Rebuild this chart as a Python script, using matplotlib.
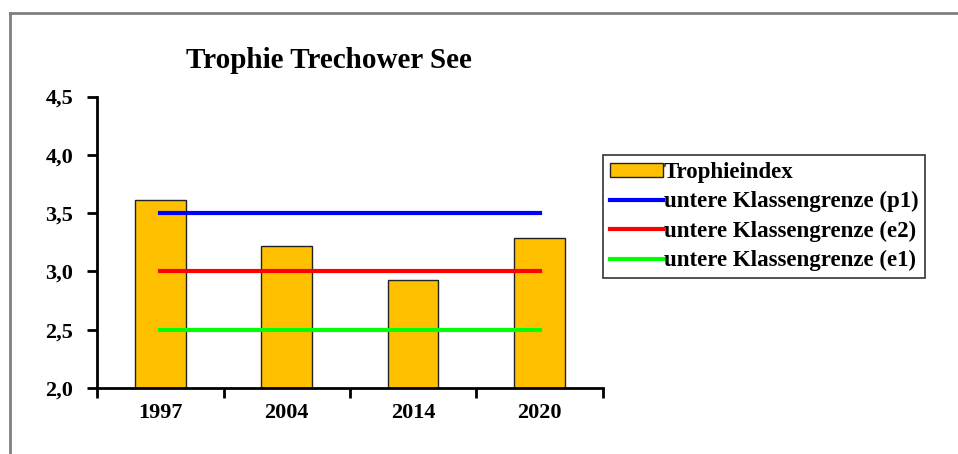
import matplotlib
matplotlib.use("Agg")
import matplotlib.pyplot as plt
from matplotlib.lines import Line2D
import numpy as np

# data
years = ["1997", "2004", "2014", "2020"]
trophieindex = [3.61, 3.22, 2.93, 3.29]
grenze_p1 = [3.5, 3.5, 3.5, 3.5]
grenze_e2 = [3.0, 3.0, 3.0, 3.0]
grenze_e1 = [2.5, 2.5, 2.5, 2.5]
yticks = [2.0, 2.5, 3.0, 3.5, 4.0, 4.5]

plt.rcParams['font.family'] = ['Liberation Serif', 'DejaVu Serif']
plt.rcParams['font.weight'] = 'bold'

fig = plt.figure(figsize=(9.58, 4.54), dpi=100)
ax = fig.add_axes([0.1013, 0.1454, 0.528, 0.642])

x = np.arange(len(years))
bars = ax.bar(x, trophieindex, width=0.4, color="#FFC000", edgecolor="#222222",
              linewidth=1.0, zorder=2)
l1, = ax.plot(x, grenze_p1, color="#0000FF", lw=3, zorder=3)
l2, = ax.plot(x, grenze_e2, color="#FF0000", lw=3, zorder=3)
l3, = ax.plot(x, grenze_e1, color="#00FF00", lw=3, zorder=3)

ax.set_xlim(-0.5, 3.5)
ax.set_ylim(2.0, 4.5)
ax.set_yticks(yticks)
ax.set_yticklabels([f"{v:.1f}".replace(".", ",") for v in yticks])
ax.set_xticks(x)
ax.set_xticklabels(years)
ax.set_xticks(np.arange(-0.5, 4.0, 1.0), minor=True)

for s in ["top", "right"]:
    ax.spines[s].set_visible(False)
for s in ["left", "bottom"]:
    ax.spines[s].set_linewidth(2)
ax.tick_params(axis="x", which="major", length=0, pad=11, labelsize=16)
ax.tick_params(axis="x", which="minor", length=7, width=2, direction="out")
ax.tick_params(axis="y", length=7, width=2, direction="out", pad=10, labelsize=16)

fig.text(329 / 958, 1 - 60 / 454, "Trophie Trechower See", fontsize=21,
         fontweight="bold", ha="center", va="center")

leg = ax.legend([bars, l1, l2, l3],
                ["Trophieindex", "untere Klassengrenze (p1)",
                 "untere Klassengrenze (e2)", "untere Klassengrenze (e1)"],
                loc="upper left", fontsize=16.5,
                frameon=True, fancybox=False, edgecolor="black", borderpad=0.3,
                handlelength=2.3, handleheight=0.6, handletextpad=0.05,
                labelspacing=0.36, borderaxespad=0)
leg.set_bbox_to_anchor((603 / 958, 1 - 155 / 454), transform=fig.transFigure)
leg.get_frame().set_linewidth(1.2)

# outer chart frame
fig.add_artist(Line2D([10 / 958, 10 / 958], [0, 1 - 13 / 454], color="#808080", lw=2))
fig.add_artist(Line2D([10 / 958, 1], [1 - 13 / 454, 1 - 13 / 454], color="#808080", lw=2))

fig.savefig("out.png", dpi=100)
